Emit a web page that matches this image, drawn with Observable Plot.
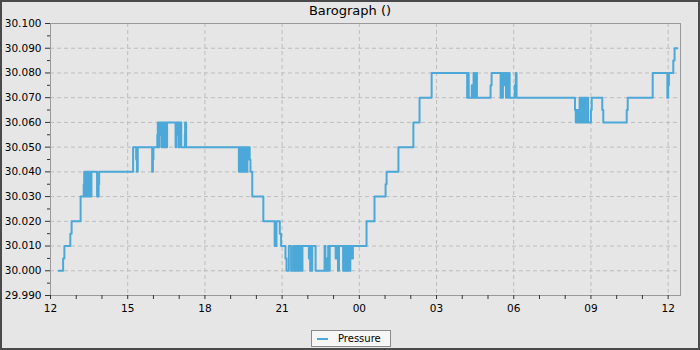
<!DOCTYPE html>
<html>
<head>
<meta charset="utf-8">
<script src="https://cdn.jsdelivr.net/npm/d3@7"></script>
<script src="https://cdn.jsdelivr.net/npm/@observablehq/plot@0.6"></script>
<style>
  html, body { margin: 0; padding: 0; background: #e6e6e6; }
  #wrap { position: relative; width: 700px; height: 350px; box-sizing: border-box;
          border: 2px solid #4a4a4a; background: #e6e6e6; font-family: "DejaVu Sans", sans-serif; overflow: hidden; }
  #title { position: absolute; left: 0; right: 0; top: 1px; text-align: center; font-size: 13px; line-height: 15px; color: #000; }
  #legend { position: absolute; left: 309px; top: 328px; width: 80px; height: 17px; box-sizing: border-box;
            border: 1px solid #8a8a8a; background: #f6f6f6; font-size: 10px; color: #000; }
  #legend .sw { position: absolute; left: 5px; top: 7px; width: 11px; height: 2px; background: #4ba8d8; }
  #legend .lb { position: absolute; left: 26px; top: 1px; line-height: 13px; }
  #chart svg { position: absolute; left: 0; top: 0; }
</style>
</head>
<body>
<div id="wrap">
  <div id="chart"></div>
  <div id="title">Barograph ()</div>
  <div id="legend"><span class="sw"></span><span class="lb">Pressure</span></div>
</div>
<script>
// hours after 12:00 on day 1
const hours = [
  0.32, 0.49, 0.54, 0.77, 0.82, 1.17,
  1.29, 1.31, 1.34, 1.37, 1.40, 1.43, 1.46, 1.49, 1.52, 1.55, 1.57, 1.59,
  1.81, 1.87, 1.89, 3.21, 3.33, 3.36, 3.39, 3.95, 3.98, 4.00,
  4.15, 4.17, 4.20, 4.23, 4.26, 4.29, 4.32, 4.35, 4.39, 4.42, 4.45, 4.48, 4.51, 4.53,
  4.86, 4.89, 4.92, 4.95, 4.98, 5.01, 5.04, 5.06, 5.08, 5.22, 5.23, 5.27,
  7.32, 7.35, 7.38, 7.41, 7.44, 7.47, 7.50, 7.53, 7.56, 7.59, 7.62, 7.65, 7.68, 7.71, 7.74, 7.77,
  7.84, 8.27, 8.71, 8.78, 8.91, 8.96, 9.13, 9.17,
  9.26, 9.35, 9.43, 9.46, 9.49, 9.52, 9.55, 9.58, 9.61, 9.64, 9.67, 9.70, 9.73, 9.76, 9.79,
  10.04, 10.06, 10.09, 10.12, 10.14, 10.17, 10.30,
  10.65, 10.68, 10.73, 10.76, 10.79, 10.82, 10.85,
  11.08, 11.12, 11.17, 11.21,
  11.37, 11.40, 11.43, 11.46, 11.49, 11.52, 11.55, 11.58, 11.62, 11.65, 11.71, 11.75,
  12.28, 12.59, 13.02, 13.06, 13.52, 14.10, 14.34, 14.81,
  16.19, 16.23, 16.25, 16.37, 16.41, 16.44, 16.47, 16.53, 16.57,
  17.10, 17.14,
  17.49, 17.52, 17.55, 17.58, 17.61, 17.64, 17.67, 17.70, 17.73, 17.77, 17.80, 17.82, 17.84,
  18.04, 18.08, 18.11,
  20.38, 20.41, 20.44, 20.47, 20.50, 20.53, 20.56, 20.59, 20.62, 20.65, 20.68, 20.71, 20.74, 20.77, 20.80, 20.83, 20.86, 20.89,
  21.00, 21.03, 21.44, 21.48, 22.39, 22.43, 23.40,
  23.97, 24.00, 24.03, 24.20, 24.25, 24.36
];
const pressure = [
  30.000, 30.005, 30.010, 30.015, 30.020, 30.030,
  30.035, 30.040, 30.030, 30.040, 30.030, 30.040, 30.030, 30.040, 30.030, 30.040, 30.030, 30.040,
  30.030, 30.035, 30.040, 30.050, 30.045, 30.040, 30.050, 30.040, 30.045, 30.050,
  30.055, 30.060, 30.050, 30.060, 30.055, 30.060, 30.050, 30.060, 30.050, 30.060, 30.050, 30.060, 30.050, 30.060,
  30.050, 30.060, 30.055, 30.060, 30.050, 30.060, 30.055, 30.060, 30.050, 30.055, 30.060, 30.050,
  30.040, 30.050, 30.040, 30.050, 30.040, 30.050, 30.040, 30.050, 30.040, 30.050, 30.040, 30.050, 30.045, 30.050, 30.045, 30.040,
  30.030, 30.020, 30.010, 30.020, 30.015, 30.010, 30.005, 30.000,
  30.010, 30.000, 30.010, 30.000, 30.010, 30.000, 30.010, 30.000, 30.010, 30.000, 30.010, 30.000, 30.010, 30.000, 30.010,
  30.005, 30.010, 30.000, 30.010, 30.000, 30.010, 30.000,
  30.010, 30.000, 30.005, 30.000, 30.010, 30.000, 30.010,
  30.005, 30.010, 30.000, 30.010,
  30.000, 30.010, 30.000, 30.010, 30.000, 30.010, 30.000, 30.010, 30.000, 30.010, 30.005, 30.010,
  30.020, 30.030, 30.035, 30.040, 30.050, 30.060, 30.070, 30.080,
  30.070, 30.080, 30.070, 30.075, 30.070, 30.080, 30.070, 30.080, 30.070,
  30.075, 30.080,
  30.070, 30.080, 30.070, 30.075, 30.080, 30.075, 30.080, 30.070, 30.080, 30.075, 30.070, 30.080, 30.070,
  30.075, 30.080, 30.070,
  30.065, 30.060, 30.065, 30.060, 30.065, 30.060, 30.070, 30.060, 30.070, 30.060, 30.070, 30.060, 30.070, 30.060, 30.070, 30.060, 30.070, 30.060,
  30.065, 30.070, 30.065, 30.060, 30.065, 30.070, 30.080,
  30.070, 30.075, 30.080, 30.085, 30.090, 30.090
];
const yMajorTicks = [29.99, 30.00, 30.01, 30.02, 30.03, 30.04, 30.05, 30.06, 30.07, 30.08, 30.09, 30.10];
const yMinorTicks = [29.995, 30.005, 30.015, 30.025, 30.035, 30.045, 30.055, 30.065, 30.075, 30.085, 30.095];
const xMajorHours = [0, 3, 6, 9, 12, 15, 18, 21, 24];
const xMinorHours = [1, 2, 4, 5, 7, 8, 10, 11, 13, 14, 16, 17, 19, 20, 22, 23];
const xEndHours = 24.48;

const base = Date.UTC(2024, 0, 1, 12);
const toDate = h => new Date(base + h * 3600e3);
const data = hours.map((h, i) => ({t: toDate(h), p: pressure[i]}));

const chart = Plot.plot({
  width: 696, height: 346,
  marginLeft: 48, marginRight: 18, marginTop: 21, marginBottom: 53,
  style: {background: "transparent", fontFamily: "DejaVu Sans", fontSize: "10.5px", color: "#000", overflow: "visible"},
  x: {type: "utc", domain: [toDate(0), toDate(xEndHours)]},
  y: {domain: [29.99, 30.10]},
  marks: [
    Plot.gridY(yMajorTicks.slice(1, -1), {stroke: "#bdbdbd", strokeOpacity: 1, strokeDasharray: "4,3"}),
    Plot.gridX(xMajorHours.slice(1).map(toDate), {stroke: "#bdbdbd", strokeOpacity: 1, strokeDasharray: "4,3"}),
    Plot.frame({stroke: "#9a9a9a"}),
    Plot.axisY(yMajorTicks, {tickSize: 5, tickPadding: 4, tickFormat: d3.format(".3f"), label: null, stroke: "#333"}),
    Plot.axisY(yMinorTicks, {tickSize: 3, fill: "none", label: null, stroke: "#333"}),
    Plot.axisX(xMajorHours.map(toDate), {tickSize: 4, tickPadding: 5, tickFormat: d3.utcFormat("%H"), label: null, stroke: "#333"}),
    Plot.axisX(xMinorHours.map(toDate), {tickSize: 4, fill: "none", label: null, stroke: "#333"}),
    Plot.line(data, {x: "t", y: "p", curve: "step-after", stroke: "#4ba8d8", strokeWidth: 2})
  ]
});
document.getElementById("chart").appendChild(chart);
</script>
</body>
</html>
